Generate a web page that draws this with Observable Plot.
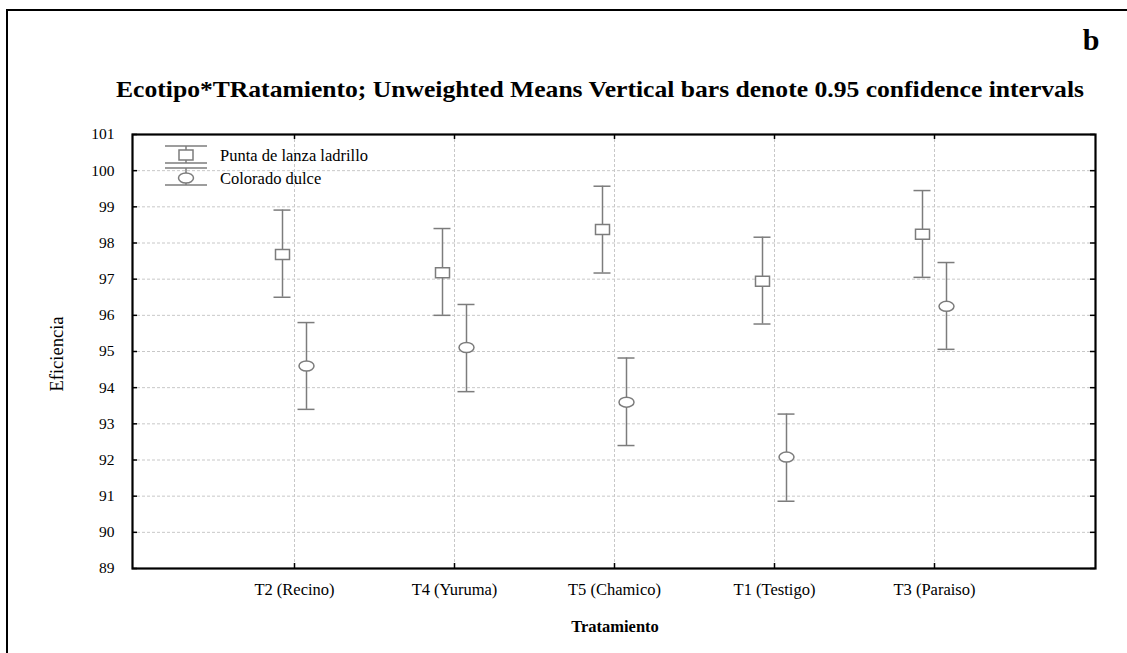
<!DOCTYPE html>
<html>
<head>
<meta charset="utf-8">
<script src="https://cdn.jsdelivr.net/npm/d3@7"></script>
<script src="https://cdn.jsdelivr.net/npm/@observablehq/plot@0.6"></script>
<style>
  html, body { margin: 0; padding: 0; background: #fff; overflow: hidden; }
  #wrap { position: relative; width: 1127px; height: 653px; overflow: hidden; font-family: "Liberation Serif", "Times New Roman", serif; }
  #border { position: absolute; left: 6px; top: 9px; width: 1200px; height: 700px; border-top: 2px solid #000; border-left: 2px solid #000; }
  #overlay { position: absolute; left: 0; top: 0; pointer-events: none; }
  #chart { position: absolute; left: 0; top: 0; }
</style>
</head>
<body>
<div id="wrap">
  <div id="border"></div>
  <div id="chart"></div>
  <svg id="overlay" width="1127" height="653" font-family="Liberation Serif, Times New Roman, serif"></svg>
</div>
<script>
// ---- data ----
const categories = ["T2 (Recino)", "T4 (Yuruma)", "T5 (Chamico)", "T1 (Testigo)", "T3 (Paraiso)"];
const seriesNames = ["Punta de lanza ladrillo", "Colorado dulce"];
const puntaMean = [97.68, 97.18, 98.37, 96.94, 98.24];
const puntaLow  = [96.50, 96.00, 97.17, 95.76, 97.05];
const puntaHigh = [98.91, 98.40, 99.57, 98.16, 99.45];
const coloradoMean = [94.60, 95.11, 93.60, 92.08, 96.25];
const coloradoLow  = [93.40, 93.89, 92.40, 90.86, 95.06];
const coloradoHigh = [95.80, 96.30, 94.82, 93.27, 97.46];
const yTicks = [89, 90, 91, 92, 93, 94, 95, 96, 97, 98, 99, 100, 101];
const yGrid = [90, 91, 92, 93, 94, 95, 96, 97, 98, 99, 100];

const title = "Ecotipo*TRatamiento; Unweighted Means Vertical bars denote 0.95 confidence intervals";
const panelLetter = "b";
const xLabel = "Tratamiento";
const yLabel = "Eficiencia";

const punta = categories.map((c, i) => ({cat: c, mean: puntaMean[i], lo: puntaLow[i], hi: puntaHigh[i]}));
const colorado = categories.map((c, i) => ({cat: c, mean: coloradoMean[i], lo: coloradoLow[i], hi: coloradoHigh[i]}));

// ---- layout ----
const W = 1127, H = 653;
const mL = 132, mR = 32, mT = 134, mB = 85;
const plotW = W - mL - mR, plotH = H - mT - mB;
const gray = "#7c7c7c";
const gridColor = "#c8c8c8";

const squareSym = {draw(ctx) { ctx.moveTo(-7, -5); ctx.lineTo(7, -5); ctx.lineTo(7, 5); ctx.lineTo(-7, 5); ctx.closePath(); }};
const ellipseSym = {draw(ctx) {
  const rx = 7.5, ry = 5, k = 0.5523;
  ctx.moveTo(rx, 0);
  ctx.bezierCurveTo(rx, ry * k, rx * k, ry, 0, ry);
  ctx.bezierCurveTo(-rx * k, ry, -rx, ry * k, -rx, 0);
  ctx.bezierCurveTo(-rx, -ry * k, -rx * k, -ry, 0, -ry);
  ctx.bezierCurveTo(rx * k, -ry, rx, -ry * k, rx, 0);
  ctx.closePath();
}};

function seriesMarks(data, dx, sym) {
  return [
    Plot.ruleX(data, {x: "cat", y1: "lo", y2: "hi", dx, stroke: gray, strokeWidth: 1.5}),
    Plot.ruleY(data, {x1: "cat", x2: "cat", y: "hi", dx, insetLeft: -8.5, insetRight: -8.5, stroke: gray, strokeWidth: 1.5}),
    Plot.ruleY(data, {x1: "cat", x2: "cat", y: "lo", dx, insetLeft: -8.5, insetRight: -8.5, stroke: gray, strokeWidth: 1.5}),
    Plot.dot(data, {x: "cat", y: "mean", dx, symbol: sym, fill: "white", stroke: gray, strokeWidth: 1.5})
  ];
}

const chart = Plot.plot({
  width: W, height: H,
  marginLeft: mL, marginRight: mR, marginTop: mT, marginBottom: mB,
  style: {fontFamily: "Liberation Serif, Times New Roman, serif", background: "transparent", color: "#000"},
  x: {type: "point", domain: categories, padding: 1, label: null, tickSize: 0, tickPadding: 15},
  y: {domain: [89, 101], ticks: yTicks, label: null, tickSize: 0, tickPadding: 18, tickFormat: d => String(d)},
  marks: [
    Plot.ruleY(yGrid, {y: d => d, stroke: gridColor, strokeDasharray: "3,2", strokeWidth: 1}),
    Plot.ruleX(categories, {x: d => d, stroke: gridColor, strokeDasharray: "3,2", strokeWidth: 1}),
    // inward ticks on all four sides
    Plot.tickY(yTicks, {y: d => d, insetRight: plotW - 5, stroke: "#000", strokeWidth: 1.5}),
    Plot.tickY(yTicks, {y: d => d, insetLeft: plotW - 5, stroke: "#000", strokeWidth: 1.5}),
    Plot.tickX(categories, {x: d => d, insetBottom: plotH - 5, stroke: "#000", strokeWidth: 1.5}),
    Plot.tickX(categories, {x: d => d, insetTop: plotH - 5, stroke: "#000", strokeWidth: 1.5}),
    ...seriesMarks(punta, -12, squareSym),
    ...seriesMarks(colorado, 12, ellipseSym),
    Plot.frame({stroke: "#000", strokeWidth: 2.2})
  ]
});
chart.querySelectorAll("g[aria-label='y-axis tick label'], g[aria-label='x-axis tick label']").forEach(g => {
  const isX = g.getAttribute("aria-label").startsWith("x");
  g.setAttribute("font-size", isX ? "16.5" : "15.5");
});
document.getElementById("chart").appendChild(chart);

// ---- overlay texts & legend ----
const ov = d3.select("#overlay");
ov.append("text").attr("x", 600).attr("y", 97).attr("text-anchor", "middle")
  .attr("font-weight", "bold").attr("font-size", 24).attr("textLength", 968).attr("lengthAdjust", "spacingAndGlyphs").text(title);
ov.append("text").attr("x", 1091).attr("y", 50).attr("text-anchor", "middle")
  .attr("font-weight", "bold").attr("font-size", 30).text(panelLetter);
ov.append("text").attr("x", 615).attr("y", 632).attr("text-anchor", "middle")
  .attr("font-weight", "bold").attr("font-size", 16.5).text(xLabel);
ov.append("text").attr("transform", "translate(63,354) rotate(-90)").attr("text-anchor", "middle")
  .attr("font-size", 18.5).text(yLabel);

// legend
const lg = ov.append("g").attr("stroke", gray).attr("stroke-width", 1.5).attr("fill", "none");
function legendItem(cy, top, bottom, sym) {
  lg.append("line").attr("x1", 165).attr("x2", 207).attr("y1", top).attr("y2", top);
  lg.append("line").attr("x1", 165).attr("x2", 207).attr("y1", bottom).attr("y2", bottom);
  lg.append("line").attr("x1", 186).attr("x2", 186).attr("y1", top).attr("y2", bottom);
  const p = d3.path(); sym.draw(p);
  lg.append("path").attr("d", p.toString()).attr("transform", `translate(186,${cy})`).attr("fill", "white");
}
legendItem(155, 146, 163, squareSym);
legendItem(178, 168, 185, ellipseSym);
ov.append("text").attr("x", 220).attr("y", 161).attr("font-size", 16.5).text(seriesNames[0]);
ov.append("text").attr("x", 220).attr("y", 184).attr("font-size", 16.5).text(seriesNames[1]);
</script>
</body>
</html>
